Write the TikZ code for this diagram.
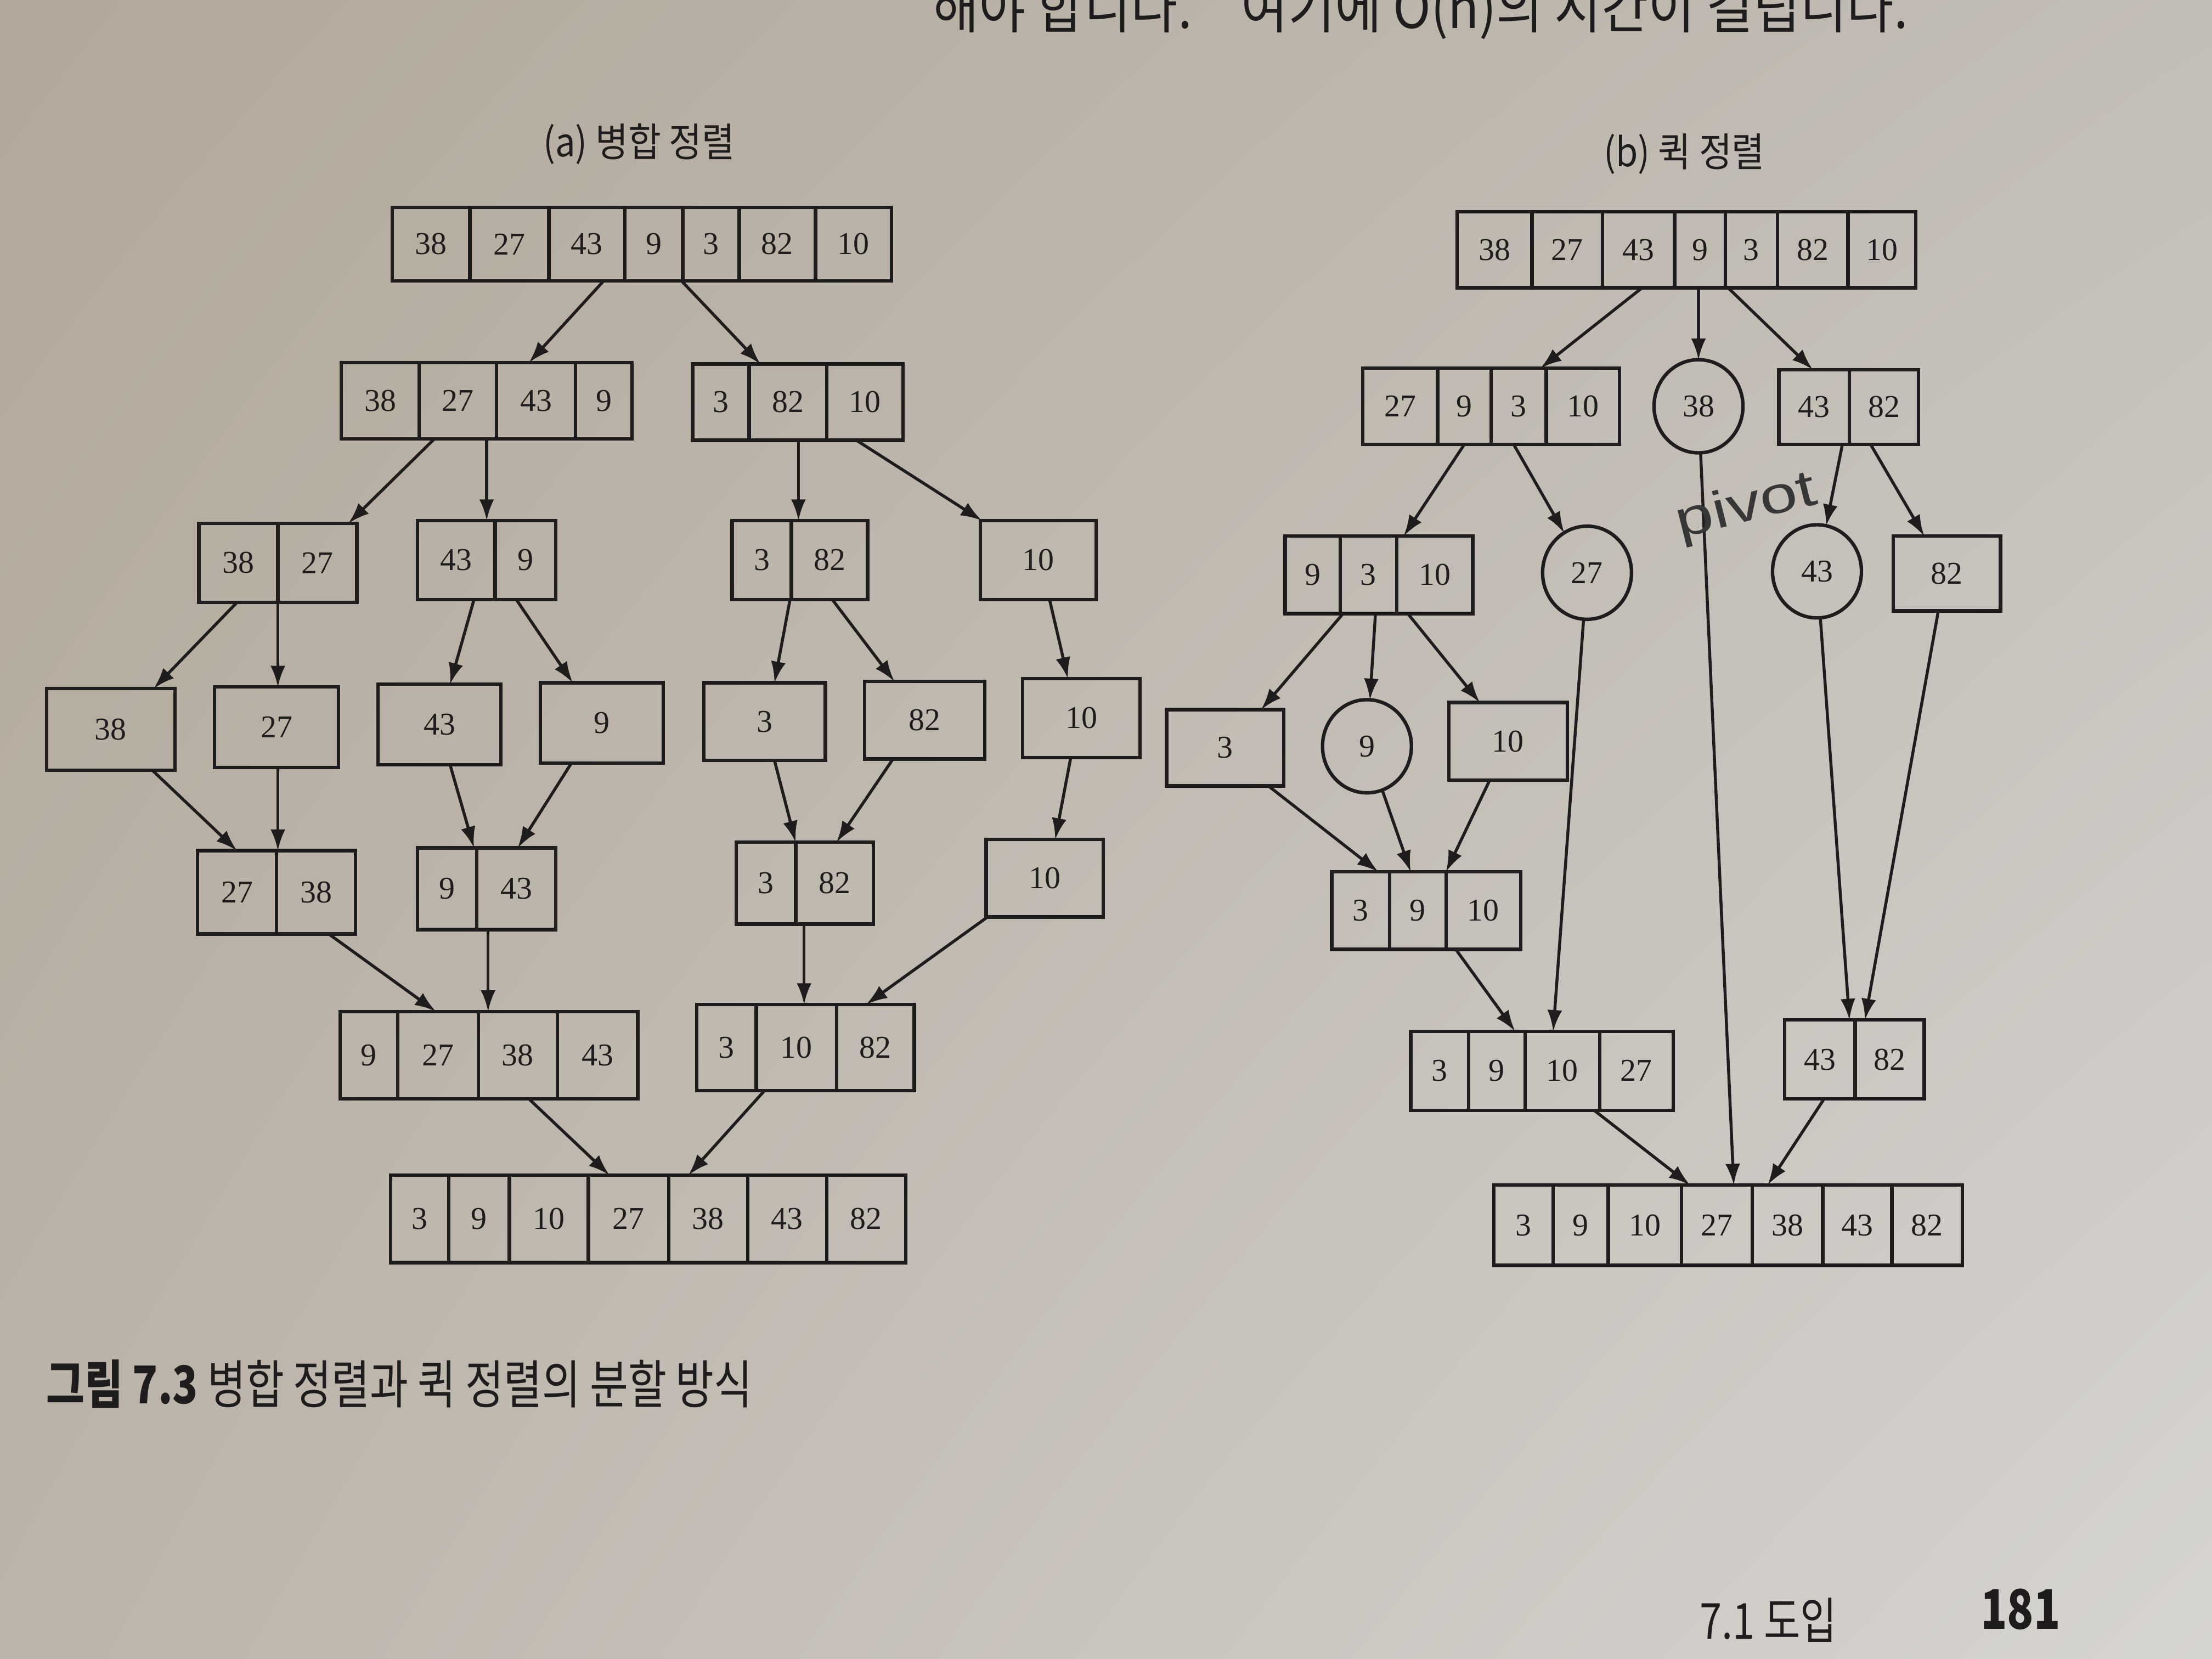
\documentclass[tikz,border=0pt]{standalone}
\usepackage{fontspec}
\setmainfont{Liberation Serif}
\newfontfamily\kr[FakeStretch=0.9]{Noto Sans CJK KR}
\newfontfamily\krc[FakeStretch=0.8]{Noto Sans CJK KR}
\newfontfamily\handfont{Liberation Sans}
\usetikzlibrary{arrows.meta,fit,shapes.geometric,shadings}
\definecolor{ink}{RGB}{30,28,28}
\definecolor{pencil}{RGB}{55,55,55}
\definecolor{pUL}{RGB}{178,168,154}
\definecolor{pUR}{RGB}{194,189,182}
\definecolor{pLL}{RGB}{188,180,170}
\definecolor{pLR}{RGB}{214,212,209}
\newcommand\arrnode[5]{%
  \foreach \xa/\xb/\vv [count=\ii] in {#5}{%
    \node[cellbox, anchor=north west, minimum width={(\xb-\xa)*0.284528pt}, minimum height={(#4-#3)*0.284528pt}] (#1-\ii) at (\xa,#3) {\vv};
  }
  \node[fit=(#1-1)(#1-#2), inner sep=0pt, outer sep=0pt] (#1) {};
}
\begin{document}
\begin{tikzpicture}[x=0.01cm,y=-0.01cm,
  cellbox/.style={draw=ink, line width=0.7pt, inner sep=0pt, outer sep=0pt, text=ink, font=\fontsize{6.4}{7}\selectfont},
  circnode/.style={draw=ink, ellipse, line width=0.7pt, inner sep=0pt, outer sep=0pt, minimum width=0.63cm, minimum height=0.66cm, text=ink, font=\fontsize{6.4}{7}\selectfont},
  conn/.style={draw=ink, line width=0.6pt, -{Latex[length=1.5mm,width=1.05mm]}},
  lbl/.style={text=ink, inner sep=0pt, outer sep=0pt}]
\useasboundingbox (0,0) rectangle (1568,1176);
\clip (0,0) rectangle (1568,1176);
\shade[upper left=pUL, upper right=pUR, lower left=pLL, lower right=pLR] (0,0) rectangle (1568,1176);

% running text (cut off at the top)
\node[lbl, anchor=base east, font=\kr\fontsize{11.4}{12}\selectfont] (top1) at (845,20) {해야 합니다.};
\node[lbl, anchor=base west, font=\kr\fontsize{11.4}{12}\selectfont] (top2) at (880,20) {여기에 O(n)의 시간이 걸립니다.};

% titles
\node[lbl, anchor=base, font=\kr\fontsize{8}{9}\selectfont] (ta) at (453,111) {(a) 병합 정렬};
\node[lbl, anchor=base, font=\kr\fontsize{8}{9}\selectfont] (tb) at (1194,118) {(b) 퀵 정렬};

% ---------------- (a) merge sort ----------------
\arrnode{m1}{7}{147}{199}{278/333/38,333/389/27,389/443/43,443/484/9,484/524/3,524/578/82,578/632/10}
\arrnode{m2}{4}{257}{311}{242/297/38,297/352/27,352/408/43,408/448/9}
\arrnode{m3}{3}{258}{312}{491/531/3,531/586/82,586/640/10}
\arrnode{m4}{2}{371}{427}{141/197/38,197/253/27}
\arrnode{m5}{2}{369}{425}{296/351/43,351/394/9}
\arrnode{m6}{2}{369}{425}{519/561/3,561/615/82}
\arrnode{m7}{1}{369}{425}{695/777/10}
\arrnode{m8}{1}{488}{546}{33/124/38}
\arrnode{m9}{1}{487}{544}{152/240/27}
\arrnode{m10}{1}{485}{542}{268/355/43}
\arrnode{m11}{1}{484}{541}{383/470/9}
\arrnode{m12}{1}{484}{539}{499/585/3}
\arrnode{m13}{1}{483}{538}{613/698/82}
\arrnode{m14}{1}{481}{537}{725/808/10}
\arrnode{m15}{2}{603}{662}{140/196/27,196/252/38}
\arrnode{m16}{2}{601}{659}{296/338/9,338/394/43}
\arrnode{m17}{2}{597}{655}{522/564/3,564/619/82}
\arrnode{m18}{1}{595}{650}{699/782/10}
\arrnode{m19}{4}{717}{779}{241/282/9,282/339/27,339/395/38,395/452/43}
\arrnode{m20}{3}{712}{773}{494/536/3,536/593/10,593/648/82}
\arrnode{m21}{7}{833}{895}{277/318/3,318/361/9,361/417/10,417/474/27,474/530/38,530/586/43,586/642/82}

\draw[conn] (428,0 |- m1.south) -- (375,0 |- m2.north);
\draw[conn] (483,0 |- m1.south) -- (539,0 |- m3.north);
\draw[conn] (308,0 |- m2.south) -- (247,0 |- m4.north);
\draw[conn] (345,0 |- m2.south) -- (345,0 |- m5.north);
\draw[conn] (566,0 |- m3.south) -- (566,0 |- m6.north);
\draw[conn] (607,0 |- m3.south) -- (696,0 |- m7.north);
\draw[conn] (168,0 |- m4.south) -- (109,0 |- m8.north);
\draw[conn] (197,0 |- m4.south) -- (197,0 |- m9.north);
\draw[conn] (336,0 |- m5.south) -- (319,0 |- m10.north);
\draw[conn] (366,0 |- m5.south) -- (406,0 |- m11.north);
\draw[conn] (560,0 |- m6.south) -- (549,0 |- m12.north);
\draw[conn] (590,0 |- m6.south) -- (634,0 |- m13.north);
\draw[conn] (744,0 |- m7.south) -- (757,0 |- m14.north);
\draw[conn] (108,0 |- m8.south) -- (168,0 |- m15.north);
\draw[conn] (197,0 |- m9.south) -- (197,0 |- m15.north);
\draw[conn] (319,0 |- m10.south) -- (336,0 |- m16.north);
\draw[conn] (405,0 |- m11.south) -- (367,0 |- m16.north);
\draw[conn] (549,0 |- m12.south) -- (564,0 |- m17.north);
\draw[conn] (633,0 |- m13.south) -- (593,0 |- m17.north);
\draw[conn] (759,0 |- m14.south) -- (748,0 |- m18.north);
\draw[conn] (233,0 |- m15.south) -- (309,0 |- m19.north);
\draw[conn] (346,0 |- m16.south) -- (346,0 |- m19.north);
\draw[conn] (570,0 |- m17.south) -- (570,0 |- m20.north);
\draw[conn] (700,0 |- m18.south) -- (614,0 |- m20.north);
\draw[conn] (375,0 |- m19.south) -- (432,0 |- m21.north);
\draw[conn] (542,0 |- m20.south) -- (488,0 |- m21.north);

% ---------------- (b) quick sort ----------------
\arrnode{q1}{7}{150}{204}{1033/1086/38,1086/1136/27,1136/1187/43,1187/1223/9,1223/1260/3,1260/1310/82,1310/1358/10}
\arrnode{q2}{4}{261}{315}{966/1019/27,1019/1057/9,1057/1096/3,1096/1148/10}
\node[circnode] (c38) at (1204,288) {38};
\arrnode{q3}{2}{262}{315}{1261/1311/43,1311/1360/82}
\arrnode{q4}{3}{380}{435}{911/950/9,950/990/3,990/1044/10}
\node[circnode] (c27) at (1125,406) {27};
\node[circnode] (c43) at (1288,405) {43};
\arrnode{q5}{1}{380}{433}{1342/1418/82}
\arrnode{q6}{1}{503}{557}{827/910/3}
\node[circnode] (c9) at (969,529) {9};
\arrnode{q7}{1}{498}{553}{1027/1111/10}
\arrnode{q8}{3}{618}{673}{944/985/3,985/1025/9,1025/1078/10}
\arrnode{q9}{4}{731}{787}{1000/1041/3,1041/1081/9,1081/1134/10,1134/1186/27}
\arrnode{q10}{2}{723}{779}{1265/1315/43,1315/1364/82}
\arrnode{q11}{7}{840}{897}{1059/1101/3,1101/1140/9,1140/1192/10,1192/1242/27,1242/1292/38,1292/1341/43,1341/1391/82}

\draw[conn] (1164,0 |- q1.south) -- (1092,0 |- q2.north);
\draw[conn] (1204,0 |- q1.south) -- (c38);
\draw[conn] (1225,0 |- q1.south) -- (1285,0 |- q3.north);
\draw[conn] (1038,0 |- q2.south) -- (995,0 |- q4.north);
\draw[conn] (1073,0 |- q2.south) -- (c27);
\draw[conn] (1306,0 |- q3.south) -- (c43);
\draw[conn] (1326,0 |- q3.south) -- (1364,0 |- q5.north);
\draw[conn] (952,0 |- q4.south) -- (894,0 |- q6.north);
\draw[conn] (975,0 |- q4.south) -- (c9);
\draw[conn] (998,0 |- q4.south) -- (1049,0 |- q7.north);
\draw[conn] (899,0 |- q6.south) -- (977,0 |- q8.north);
\draw[conn] (c9) -- (1000,0 |- q8.north);
\draw[conn] (1056,0 |- q7.south) -- (1025,0 |- q8.north);
\draw[conn] (1032,0 |- q8.south) -- (1074,0 |- q9.north);
\draw[conn] (c27) -- (1101,0 |- q9.north);
\draw[conn] (c38) -- (1229,0 |- q11.north);
\draw[conn] (c43) -- (1311,0 |- q10.north);
\draw[conn] (1374,0 |- q5.south) -- (1322,0 |- q10.north);
\draw[conn] (1130,0 |- q9.south) -- (1198,0 |- q11.north);
\draw[conn] (1293,0 |- q10.south) -- (1253,0 |- q11.north);

\node[text=pencil, font=\handfont\fontsize{10.5}{10}\selectfont, rotate=14, xscale=1.3, inner sep=0pt] (piv) at (1238,360) {pivot};

% caption and footer
\node[lbl, anchor=base west, font=\krc\fontsize{10.5}{12}\selectfont] (cap) at (33,995) {\textbf{그림 7.3} 병합 정렬과 퀵 정렬의 분할 방식};
\node[lbl, anchor=base west, font=\krc\fontsize{10}{11}\selectfont] (sec) at (1205,1162) {7.1 도입};
\node[lbl, anchor=base west, font=\krc\bfseries\fontsize{11}{12}\selectfont] (pg) at (1404,1155) {181};
\end{tikzpicture}
\end{document}
